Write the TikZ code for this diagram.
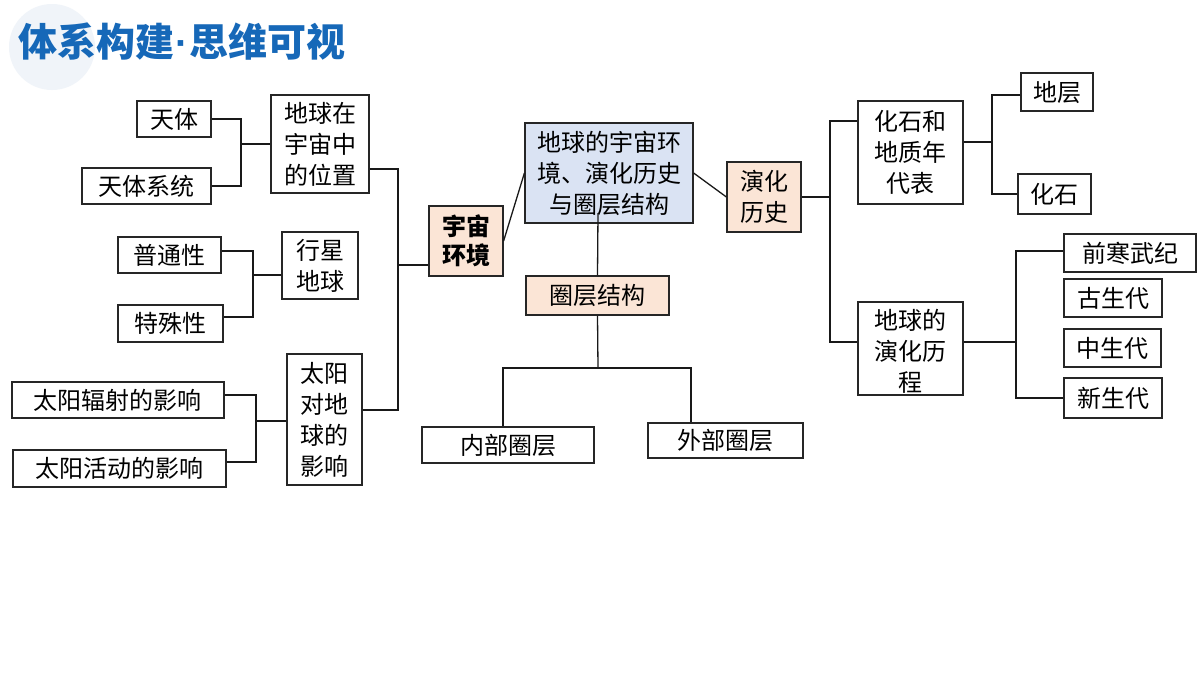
\documentclass[tikz,border=0pt]{standalone}
\usepackage{fontspec}
\setmainfont{Noto Sans CJK SC}
\newfontfamily\cjk{Noto Sans CJK SC}
\newfontfamily\dotfont{Liberation Sans}
\definecolor{peachc}{RGB}{251,229,214}
\definecolor{bluec}{RGB}{218,227,243}
\definecolor{titlec}{RGB}{22,104,184}
\definecolor{circc}{RGB}{240,244,249}
\begin{document}
\begin{tikzpicture}[x=1pt,y=-1pt,
  box/.style={draw=black!85, line width=1.2pt, inner sep=0pt, align=center, text=black,
    font=\cjk\fontsize{24}{31}\selectfont},
  peach/.style={fill=peachc},
  blue box/.style={fill=bluec},
  conn/.style={draw=black!90, line width=1.3pt},
  title/.style={font=\cjk\bfseries\fontsize{39}{44}\selectfont, text=titlec, anchor=west, inner sep=0pt}
]
\useasboundingbox[fill=white] (0,0) rectangle (1200,675);
\fill[circc] (52,47) circle[radius=43];
\node[title] (ttl) at (18,42) {体系构建{\dotfont\bfseries\hspace{1pt}·\hspace{1pt}}思维可视};

% left side
\node[box, minimum width=74pt, minimum height=36pt] (tianti) at (174,119) {天体};
\node[box, minimum width=129pt, minimum height=36pt] (tixi) at (146.5,186) {天体系统};
\node[box, minimum width=98pt, minimum height=98pt] (diqiu) at (320,144) {地球在\\宇宙中\\的位置};
\node[box, minimum width=103pt, minimum height=36pt] (putong) at (169.5,255) {普通性};
\node[box, minimum width=105pt, minimum height=37pt] (teshu) at (170.5,323.5) {特殊性};
\node[box, minimum width=76pt, minimum height=67pt] (xingxing) at (320,265.5) {行星\\地球};
\node[box, minimum width=212pt, minimum height=36pt] (fushe) at (118,400) {太阳辐射的影响};
\node[box, minimum width=213pt, minimum height=37pt] (huodong) at (119.5,468.5) {太阳活动的影响};
\node[box, minimum width=75pt, minimum height=131pt] (taiyang) at (324.5,419.5) {太阳\\对地\\球的\\影响};

% centre
\node[box, peach, minimum width=74pt, minimum height=70pt, font=\cjk\bfseries\fontsize{24}{29}\selectfont] (yzhj) at (466,241) {宇宙\\环境};
\node[box, blue box, minimum width=168pt, minimum height=100pt] (center) at (609,173) {地球的宇宙环\\境、演化历史\\与圈层结构};
\node[box, peach, minimum width=143pt, minimum height=39pt] (quanceng) at (597.5,295.5) {圈层结构};
\node[box, minimum width=172pt, minimum height=36pt] (neibu) at (508,445) {内部圈层};
\node[box, minimum width=155pt, minimum height=35pt] (waibu) at (725.5,440.5) {外部圈层};

% right side
\node[box, peach, minimum width=74pt, minimum height=70pt] (yanhua) at (764,197) {演化\\历史};
\node[box, minimum width=105pt, minimum height=103pt] (huashi) at (910.5,152.5) {化石和\\地质年\\代表};
\node[box, minimum width=72pt, minimum height=38pt] (dice) at (1057,92) {地层};
\node[box, minimum width=73pt, minimum height=40pt] (hs) at (1054.5,194) {化石};
\node[box, minimum width=105pt, minimum height=93pt] (yhlc) at (910.5,348.5) {\\[-6pt]地球的\\演化历\\程};
\node[box, minimum width=132pt, minimum height=38pt] (qhwj) at (1130,253) {前寒武纪};
\node[box, minimum width=98pt, minimum height=38pt] (gsd) at (1113,298) {古生代};
\node[box, minimum width=97pt, minimum height=38pt] (zsd) at (1112.5,348) {中生代};
\node[box, minimum width=98pt, minimum height=40pt] (xsd) at (1113,398) {新生代};

% junctions
\coordinate (j1) at (241,144);
\coordinate (j2) at (253,275);
\coordinate (j3) at (256,421);
\coordinate (j4) at (398,265);
\coordinate (cq) at (598,213);
\coordinate (j5) at (598,368);
\coordinate (n1) at (503,368);
\coordinate (n2) at (691,368);
\coordinate (j6) at (830,197);
\coordinate (j7) at (992,142);
\coordinate (j8) at (1016,342);

% connectors left
\draw[conn] (tianti.east) -| (j1) |- (tixi.east);
\draw[conn] (j1) -- (diqiu.west);
\draw[conn] ([yshift=4pt]putong.east) -| (j2) |- ([yshift=6.5pt]teshu.east);
\draw[conn] (j2) -- (j2 -| xingxing.west);
\draw[conn] ([yshift=5pt]fushe.east) -| (j3) |- ([yshift=6.5pt]huodong.east);
\draw[conn] (j3) -- (j3 -| taiyang.west);
\draw[conn] ([yshift=-25pt]diqiu.east) -| (j4);
\draw[conn] ([yshift=9.5pt]taiyang.east) -| (j4);
\draw[conn] (j4) -- (j4 -| yzhj.west);

% centre connectors
\draw[conn] (yzhj.east) -- (center.west);
\draw[conn] (center.east) -- (yanhua.west);
\draw[conn] (quanceng.north) -- (cq);
\draw[conn] (quanceng.south) -- (j5);
\draw[conn] (n1 |- neibu.north) -- (n1) -- (n2) -- (n2 |- waibu.north);

% right connectors
\draw[conn] (yanhua.east) -- (j6);
\draw[conn] ([yshift=31.5pt]huashi.west) -| (j6) |- ([yshift=6.5pt]yhlc.west);
\draw[conn] ([yshift=10.5pt]huashi.east) -- (j7);
\draw[conn] ([yshift=-3pt]dice.west) -| (j7) |- (hs.west);
\draw[conn] ([yshift=6.5pt]yhlc.east) -- (j8);
\draw[conn] ([yshift=2pt]qhwj.west) -| (j8) |- (xsd.west);
\end{tikzpicture}
\end{document}
